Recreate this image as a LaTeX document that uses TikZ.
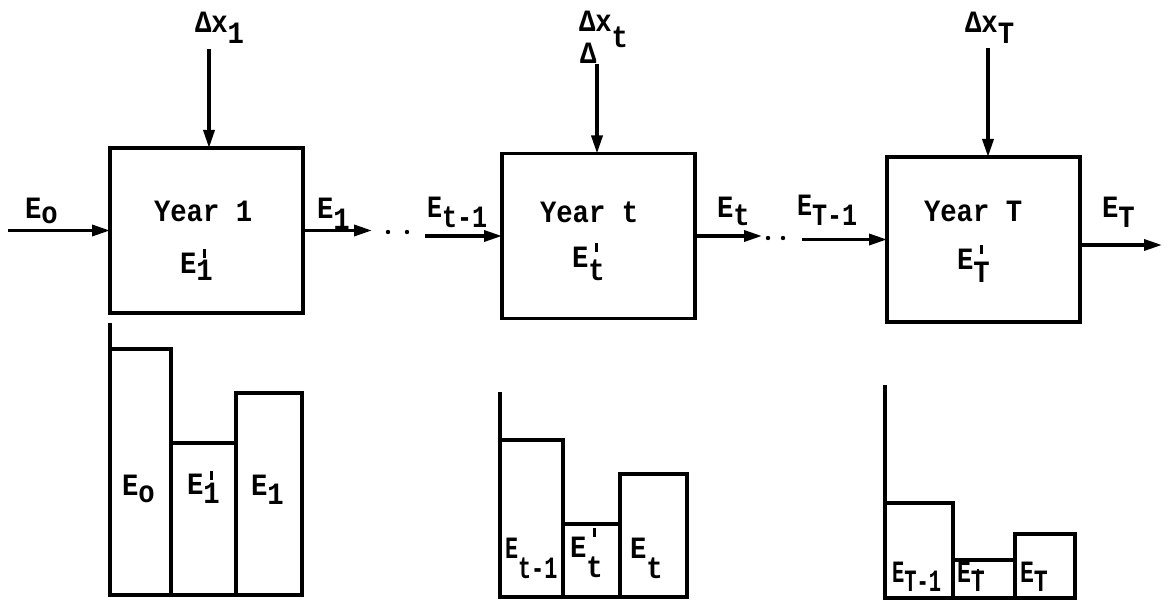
\documentclass[tikz,border=0pt]{standalone}
\usepackage{fontspec}
\setmainfont{Liberation Mono}[FakeStretch=0.88]
\usetikzlibrary{arrows.meta}
\newcommand\lw[2]{\raisebox{-#1}{#2}}
\newcommand\tick[1]{\rlap{\kern0.22em\raisebox{#1}{\rule{3pt}{0.3em}}}}
\newcommand\Ep[3]{E\lw{#1}{\tick{#2}#3}}
\begin{document}
\begin{tikzpicture}[x=1pt,y=-1pt,
  line width=3.4pt,
  every node/.style={font=\fontsize{31}{33}\selectfont\bfseries, inner sep=0pt, outer sep=0pt},
  lbl/.style={anchor=base west},
  box/.style={draw, line width=3.4pt, minimum width=193pt, minimum height=165pt},
  arr/.style={-{Triangle[length=18pt,width=11pt]}},
  bar/.style={draw, line width=3.2pt}]
\useasboundingbox (0,0) rectangle (1165,601);

% boxes
\node[box] (b1) at (206.5,230.5) {};
\node[box] (b2) at (598.5,236) {};
\node[box] (b3) at (983.5,239.5) {};

% box texts
\node[lbl] (y1) at (154,222) {Year 1};
\node[lbl] (y2) at (540,223) {Year t};
\node[lbl] (y3) at (924,222) {Year T};
\node[lbl] (e1p) at (180,274) {\Ep{0.2em}{0.72em}{1}};
\node[lbl] (e2p) at (572,268) {\Ep{0.4em}{0.9em}{t}};
\node[lbl] (e3p) at (957,270) {\Ep{0.4em}{0.9em}{T}};

% top inputs
\coordinate (d1) at (209,49);
\coordinate (d2) at (597,64);
\coordinate (d3) at (988,48);
\draw[arr] (d1) -- (d1 |- b1.north);
\draw[arr] (d2) -- (d2 |- b2.north);
\draw[arr] (d3) -- (d3 |- b3.north);
\node[lbl] (dx1) at (195,33) {Δx\lw{0.35em}{1}};
\node[lbl] (dx2) at (579,32) {Δx\lw{0.5em}{t}};
\node[lbl] (dd2) at (580,64) {Δ};
\node[lbl] (dx3) at (965,33) {Δx\lw{0.35em}{T}};

% horizontal flows
\coordinate (i1) at (8,230.5);
\coordinate (o1) at (372,230.5);
\coordinate (i2) at (425,236);
\coordinate (o2) at (762,236);
\coordinate (i3) at (802,239.5);
\coordinate (o3) at (1162,245);
\draw[arr] (i1) -- (b1.west);
\draw[arr] (b1.east) -- (o1);
\draw[arr] (i2) -- (b2.west);
\draw[arr] (b2.east) -- (o2);
\draw[arr] (i3) -- (b3.west);
\draw[arr] (b3.east |- o3) -- (o3);
\node[lbl] (le0) at (25,219) {E\lw{0.15em}{o}};
\node[lbl] (le1) at (317,219) {E\lw{0.35em}{1}};
\node[lbl] (let1) at (427,218) {\scalebox{0.92}[1]{E\lw{0.3em}{t-1}}};
\node[lbl] (let) at (717,218) {E\lw{0.25em}{t}};
\node[lbl] (leT1) at (797,216) {\scalebox{0.92}[1]{E\lw{0.3em}{T-1}}};
\node[lbl] (leT) at (1102,218) {E\lw{0.3em}{T}};

% dots
\fill (388,232) circle (2.2pt) (407,232) circle (2.2pt);
\fill (768,238) circle (2.2pt) (783,238) circle (2.2pt);

% chart 1
\draw (110,323) -- (110,595);
\draw[bar] (110,349) rectangle (171,595);
\draw[bar] (171,443) rectangle (236,595);
\draw[bar] (236,393) rectangle (302,595);
\node[lbl] (c1a) at (122,495) {E\lw{0.25em}{o}};
\node[lbl] (c1b) at (187,494) {\Ep{0.3em}{0.75em}{1}};
\node[lbl] (c1c) at (251,495) {E\lw{0.3em}{1}};

% chart 2
\draw (500,392) -- (500,597);
\draw[bar] (500,440) rectangle (563,597);
\draw[bar] (563,524) rectangle (620,597);
\draw[bar] (620,474) rectangle (687,597);
\node[lbl] (c2a) at (505,558) {\scalebox{0.8}[1]{E\lw{0.65em}{t-1}}};
\node[lbl] (c2b) at (570,557) {\Ep{0.65em}{1.3em}{t}};
\node[lbl] (c2c) at (630,558) {E\lw{0.65em}{t}};

% chart 3
\draw (885,385) -- (885,598);
\draw[bar] (885,503) rectangle (953,598);
\draw[bar] (953,560) rectangle (1015,598);
\draw[bar] (1015,534) rectangle (1075,598);
\node[lbl] (c3a) at (892,582) {\scalebox{0.75}[1]{E\lw{0.3em}{T-1}}};
\node[lbl] (c3b) at (957,582) {\scalebox{0.85}[1]{\Ep{0.3em}{0.42em}{T}}};
\node[lbl] (c3c) at (1020,582) {\scalebox{0.85}[1]{E\lw{0.3em}{T}}};
\end{tikzpicture}
\end{document}
